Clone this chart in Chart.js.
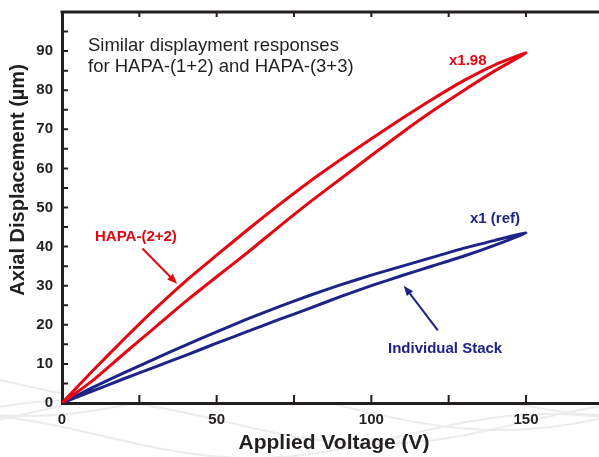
<!DOCTYPE html>
<html>
<head>
<meta charset="utf-8">
<script src="https://cdn.jsdelivr.net/npm/chart.js@4/dist/chart.umd.min.js"></script>
<style>
  html, body { margin: 0; padding: 0; background: #fff; overflow: hidden; }
  #wrap { width: 599px; height: 457px; position: relative; }
</style>
</head>
<body>
<div id="wrap"><canvas id="myChart" width="599" height="457"></canvas></div>
<script>
    "use strict";

    // applied voltage (V), same steps for both branches
    var voltage = [0, 10, 20, 30, 40, 50, 60, 70, 80, 90, 100, 110, 120, 130, 140, 150];

    // HAPA-(2+2): rising and falling branch (um)
    var hapaRise = [0, 5.8, 12.6, 19.3, 26.0, 32.3, 38.5, 45.0, 51.3, 57.3, 63.3, 69.2, 74.8, 80.0, 85.0, 89.5];
    var hapaFall = [0, 8.3, 16.3, 24.0, 31.2, 37.8, 44.3, 50.6, 56.6, 62.2, 67.6, 72.8, 77.8, 82.5, 86.5, 89.5];

    // individual stack: rising and falling branch (um)
    var stackRise = [0, 3.1, 6.2, 9.2, 12.2, 15.3, 18.3, 21.3, 24.2, 27.2, 30.0, 32.6, 35.1, 37.6, 40.4, 43.5];
    var stackFall = [0, 4.0, 7.7, 11.3, 14.8, 18.2, 21.5, 24.6, 27.5, 30.2, 32.7, 35.0, 37.3, 39.6, 41.6, 43.5];

    var xLabels = [0, 50, 100, 150];
    var yLabels = [0, 10, 20, 30, 40, 50, 60, 70, 80, 90];

    var INK = '#231f20';
    var RED = '#e30613';
    var BLUE = '#1d2387';
    var FAM = '"Liberation Sans", Arial, sans-serif';

    // up the rising branch, back down the falling one
    function loop(rise, fall) {
        var pts = [];
        for (var i = 0; i < voltage.length; i++) pts.push({ x: voltage[i], y: rise[i] });
        for (var j = voltage.length - 2; j >= 0; j--) pts.push({ x: voltage[j], y: fall[j] });
        return pts;
    }

    //* faint wavy background + frame ticks + notes
    var decor = {
        id: 'decor',
        beforeDraw: function(chart) {
            var c = chart.ctx;
            c.save();
            c.strokeStyle = '#ececec';
            c.lineWidth = 2;
            for (var k = 0; k < 5; k++) {
                c.beginPath();
                for (var px = 0; px <= 600; px += 4) {
                    var py = 380 + k * 14 + 22 * Math.sin(px / 95 + k * 1.3);
                    if (px === 0) c.moveTo(px, py); else c.lineTo(px, py);
                }
                c.stroke();
            }
            c.fillStyle = '#fff';
            var a = chart.chartArea;
            c.fillRect(a.left, a.top, a.right - a.left, a.bottom - a.top);
            c.restore();
        },
        afterDraw: function(chart) {
            var c = chart.ctx, xs = chart.scales.x, ys = chart.scales.y, a = chart.chartArea;
            c.save();
            c.strokeStyle = INK;
            c.lineWidth = 3;
            c.beginPath();
            c.moveTo(a.left - 1.5, a.top);
            c.lineTo(a.right, a.top);
            c.stroke();

            c.lineWidth = 2;
            c.beginPath();
            for (var v = 25; v <= 175; v += 25) {
                var x = xs.getPixelForValue(v);
                c.moveTo(x, a.bottom); c.lineTo(x, a.bottom - 8);
                c.moveTo(x, a.top); c.lineTo(x, a.top + 5);
            }
            for (var w = 5; w < 100; w += 5) {
                var y = ys.getPixelForValue(w);
                c.moveTo(a.left, y); c.lineTo(a.left + 6, y);
            }
            c.stroke();

            // axis titles
            c.fillStyle = INK;
            c.textBaseline = 'middle';
            c.textAlign = 'center';
            c.font = 'bold 21px ' + FAM;
            c.fillText('Applied Voltage (V)', 334, 443);
            c.save();
            c.translate(18, 180);
            c.rotate(-Math.PI / 2);
            c.font = 'bold 20px ' + FAM;
            c.fillText('Axial Displacement (µm)', 0, 0);
            c.restore();

            // notes
            c.textAlign = 'left';
            c.font = '18.5px ' + FAM;
            c.fillText('Similar displayment responses', 88, 46);
            c.fillText('for HAPA-(1+2) and HAPA-(3+3)', 88, 67);

            c.font = 'bold 15px ' + FAM;
            c.fillStyle = RED;
            c.fillText('x1.98', 449, 61);
            c.fillText('HAPA-(2+2)', 95, 237);
            c.fillStyle = BLUE;
            c.fillText('x1 (ref)', 470, 219);
            c.fillText('Individual Stack', 388, 349);

            arrow(c, RED, xs.getPixelForValue(26), ys.getPixelForValue(39.5), xs.getPixelForValue(37.2), ys.getPixelForValue(30.5));
            arrow(c, BLUE, xs.getPixelForValue(121.5), ys.getPixelForValue(18.6), xs.getPixelForValue(110.5), ys.getPixelForValue(30.0));
            c.restore();
        }
    };

    function arrow(c, col, x0, y0, x1, y1) {
        var ang = Math.atan2(y1 - y0, x1 - x0);
        c.strokeStyle = col;
        c.fillStyle = col;
        c.lineWidth = 2;
        c.beginPath();
        c.moveTo(x0, y0);
        c.lineTo(x1 - 6 * Math.cos(ang), y1 - 6 * Math.sin(ang));
        c.stroke();
        c.beginPath();
        c.moveTo(x1, y1);
        c.lineTo(x1 - 10 * Math.cos(ang) + 4 * Math.sin(ang), y1 - 10 * Math.sin(ang) - 4 * Math.cos(ang));
        c.lineTo(x1 - 10 * Math.cos(ang) - 4 * Math.sin(ang), y1 - 10 * Math.sin(ang) + 4 * Math.cos(ang));
        c.closePath();
        c.fill();
    }

    var tickFont = { family: FAM, size: 15, weight: 'bold' };

    var ctx = document.getElementById('myChart').getContext('2d');
    var myChart = new Chart(ctx, {
        type: 'scatter',
        data: {
            datasets: [{
                label: 'HAPA-(2+2)',
                data: loop(hapaRise, hapaFall),
                showLine: true,
                borderColor: RED,
                borderWidth: 3,
                pointRadius: 0,
                tension: 0.2
            }, {
                label: 'Individual Stack',
                data: loop(stackRise, stackFall),
                showLine: true,
                borderColor: BLUE,
                borderWidth: 3,
                pointRadius: 0,
                tension: 0.2
            }]
        },
        options: {
            responsive: false,
            animation: false,
            layout: { padding: { top: 12, right: 0, left: 0, bottom: 0 } },
            plugins: { legend: { display: false }, tooltip: { enabled: false } },
            scales: {
                x: {
                    type: 'linear',
                    min: 0,
                    max: 173.6,
                    afterBuildTicks: function(s) { s.ticks = xLabels.map(function(v) { return { value: v }; }); },
                    afterFit: function(s) { s.height = 54; s.paddingRight = 0; },
                    grid: { display: false, drawTicks: false },
                    border: { display: true, width: 3, color: INK },
                    ticks: { color: INK, font: tickFont, padding: 8, maxRotation: 0 }
                },
                y: {
                    min: 0,
                    max: 100,
                    afterBuildTicks: function(s) { s.ticks = yLabels.map(function(v) { return { value: v }; }); },
                    afterFit: function(s) { s.width = 62; s.paddingTop = 0; s.paddingBottom = 0; },
                    grid: { display: false, drawTicks: false },
                    border: { display: true, width: 3, color: INK },
                    ticks: { color: INK, font: tickFont, padding: 9 }
                }
            }
        },
        plugins: [decor]
    });
</script>
</body>
</html>
